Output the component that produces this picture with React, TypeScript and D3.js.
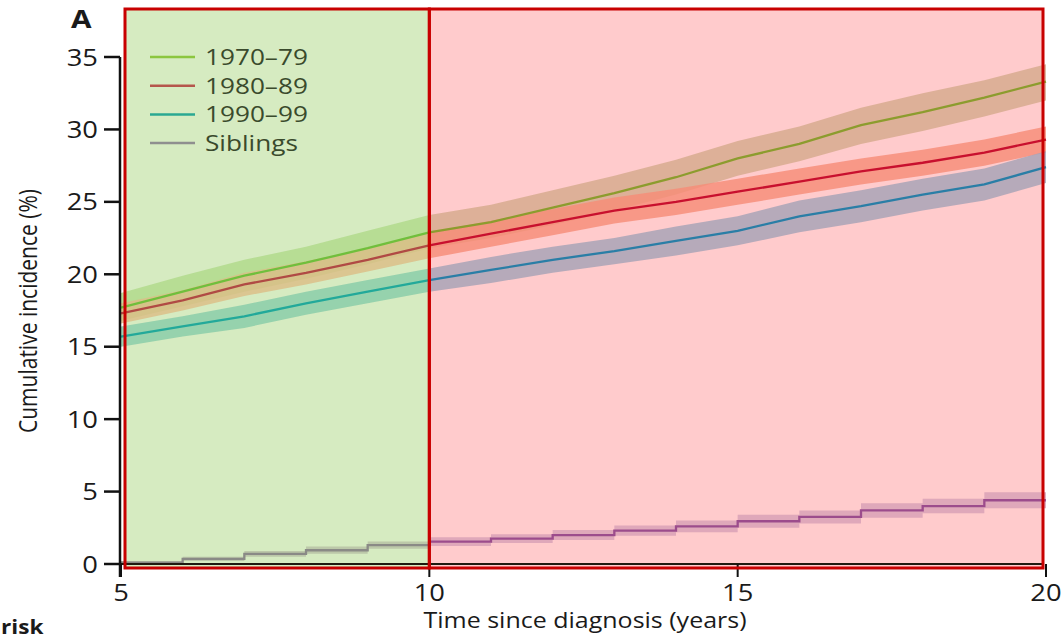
import React from 'react';
import * as d3 from 'd3';

// Follow-up years (time since diagnosis)
const years = [5, 6, 7, 8, 9, 10, 11, 12, 13, 14, 15, 16, 17, 18, 19, 20];

// Cumulative incidence (%) with confidence limits, by treatment era
const era1970Mid = [17.7, 18.8, 19.9, 20.8, 21.8, 22.9, 23.6, 24.6, 25.6, 26.7, 28.0, 29.0, 30.3, 31.2, 32.2, 33.3];
const era1970Lo = [16.8, 17.8, 18.8, 19.7, 20.7, 21.8, 22.5, 23.4, 24.4, 25.5, 26.8, 27.8, 29.0, 29.9, 30.9, 32.0];
const era1970Hi = [18.7, 19.9, 21.0, 21.9, 23.0, 24.1, 24.8, 25.8, 26.8, 27.9, 29.2, 30.2, 31.5, 32.5, 33.4, 34.5];

const era1980Mid = [17.3, 18.2, 19.3, 20.1, 21.0, 22.0, 22.8, 23.6, 24.4, 25.0, 25.7, 26.4, 27.1, 27.7, 28.4, 29.3];
const era1980Lo = [16.6, 17.5, 18.5, 19.3, 20.2, 21.1, 21.9, 22.7, 23.5, 24.1, 24.8, 25.5, 26.2, 26.8, 27.5, 28.4];
const era1980Hi = [18.0, 18.9, 20.1, 20.9, 21.8, 22.9, 23.7, 24.5, 25.3, 25.9, 26.6, 27.3, 28.0, 28.6, 29.3, 30.2];

const era1990Mid = [15.7, 16.4, 17.1, 18.0, 18.8, 19.6, 20.3, 21.0, 21.6, 22.3, 23.0, 24.0, 24.7, 25.5, 26.2, 27.4];
const era1990Lo = [15.0, 15.7, 16.3, 17.2, 18.0, 18.8, 19.4, 20.1, 20.7, 21.3, 22.0, 22.9, 23.6, 24.4, 25.1, 26.3];
const era1990Hi = [16.4, 17.1, 17.9, 18.8, 19.6, 20.4, 21.2, 21.9, 22.5, 23.3, 24.0, 25.1, 25.8, 26.6, 27.3, 28.5];

const siblingsMid = [0.1, 0.35, 0.7, 0.95, 1.3, 1.55, 1.75, 2.0, 2.3, 2.6, 2.95, 3.25, 3.7, 4.0, 4.4, 4.4];
const siblingsLo = [0.0, 0.2, 0.5, 0.7, 1.05, 1.25, 1.45, 1.65, 1.95, 2.2, 2.5, 2.8, 3.2, 3.5, 3.85, 3.85];
const siblingsHi = [0.2, 0.5, 0.9, 1.2, 1.55, 1.85, 2.05, 2.35, 2.65, 3.0, 3.4, 3.7, 4.2, 4.5, 4.95, 4.95];

const legendLabels = ['1970–79', '1980–89', '1990–99', 'Siblings'];
const xTicks = [5, 10, 15, 20];
const yTicks = [0, 5, 10, 15, 20, 25, 30, 35];
const splitYear = 10;

const FONT = "'Open Sans', 'Noto Sans', sans-serif";
const SX = 1.19;

type SeriesDef = {
  mid: number[];
  lo: number[];
  hi: number[];
  step: boolean;
  early: { band: string; line: string };
  late: { band: string; line: string };
  legend: string;
};

const series: SeriesDef[] = [
  {
    mid: era1970Mid, lo: era1970Lo, hi: era1970Hi, step: false,
    early: { band: '#b0d98a', line: '#70bf3c' },
    late: { band: '#d5aa8c', line: '#8c9c2e' },
    legend: '#8cc63f',
  },
  {
    mid: era1980Mid, lo: era1980Lo, hi: era1980Hi, step: false,
    early: { band: '#dcbd86', line: '#b04a44' },
    late: { band: '#f68c78', line: '#c8102e' },
    legend: '#b5564c',
  },
  {
    mid: era1990Mid, lo: era1990Lo, hi: era1990Hi, step: false,
    early: { band: '#88cca8', line: '#22a99a' },
    late: { band: '#a6a2b6', line: '#2a7ea6' },
    legend: '#2aa892',
  },
  {
    mid: siblingsMid, lo: siblingsLo, hi: siblingsHi, step: true,
    early: { band: '#b6c0a4', line: '#8a8a86' },
    late: { band: '#d8a0b6', line: '#9c4c8c' },
    legend: '#8f8f8f',
  },
];

function SText(props: {
  x: number; y: number; anchor?: string; size: number; weight?: number | string;
  fill?: string; children: React.ReactNode;
}) {
  const { x, y, anchor = 'start', size, weight = 400, fill = '#1a1a1a', children } = props;
  return (
    <g transform={`translate(${x},${y}) scale(${SX},1)`}>
      <text textAnchor={anchor as any} fontSize={size} fontWeight={weight as any} fill={fill} fontFamily={FONT}>
        {children}
      </text>
    </g>
  );
}

export default function App() {
  const width = 1063;
  const height = 638;
  const x = d3.scaleLinear().domain([5, 20]).range([121, 1046]);
  const y = d3.scaleLinear().domain([0, 35]).range([564, 57]);

  const xSplit = x(splitYear);
  const regionTop = 9;
  const regionBottom = 568;
  const regionLeft = x(5) + 4;
  const regionRight = x(20) - 3;

  const makeArea = (s: SeriesDef) =>
    d3.area<number>()
      .x((_, i) => x(years[i]))
      .y0((_, i) => y(s.lo[i]))
      .y1((_, i) => y(s.hi[i]))
      .curve(s.step ? d3.curveStepAfter : d3.curveLinear)(years) || '';

  const makeLine = (s: SeriesDef) =>
    d3.line<number>()
      .x((_, i) => x(years[i]))
      .y((_, i) => y(s.mid[i]))
      .curve(s.step ? d3.curveStepAfter : d3.curveLinear)(years) || '';

  const periods: { id: string; key: 'early' | 'late' }[] = [
    { id: 'clip-early', key: 'early' },
    { id: 'clip-late', key: 'late' },
  ];

  return (
    <svg width={width} height={height} style={{ position: 'absolute', left: 0, top: 0, background: '#fff' }}>
      <defs>
        <clipPath id="clip-early">
          <rect x={0} y={0} width={xSplit} height={height} />
        </clipPath>
        <clipPath id="clip-late">
          <rect x={xSplit} y={0} width={width - xSplit} height={height} />
        </clipPath>
      </defs>

      {/* shaded follow-up periods */}
      <rect x={regionLeft} y={regionTop} width={xSplit - regionLeft} height={regionBottom - regionTop} fill="#d6ebc1" />
      <rect x={xSplit} y={regionTop} width={regionRight - xSplit} height={regionBottom - regionTop} fill="#ffcbcc" />

      {/* confidence bands and curves, coloured per period */}
      {periods.map((p) => (
        <g key={p.id} clipPath={`url(#${p.id})`}>
          {series.map((s, i) => (
            <path key={`b${i}`} d={makeArea(s)} fill={s[p.key].band} fillOpacity={0.82} />
          ))}
          {series.map((s, i) => (
            <path key={`l${i}`} d={makeLine(s)} fill="none" stroke={s[p.key].line} strokeWidth={2.3} />
          ))}
        </g>
      ))}

      {/* x axis */}
      <line x1={x(5) - 17} x2={x(20) - 3} y1={y(0)} y2={y(0)} stroke="#1e1a10" strokeWidth={2} />
      {xTicks.map((t) => (
        <line key={`xt${t}`} x1={x(t)} x2={x(t)} y1={y(0)} y2={y(0) + 13} stroke="#111" strokeWidth={2} />
      ))}

      {/* period borders */}
      <rect x={regionLeft} y={regionTop} width={xSplit - regionLeft} height={regionBottom - regionTop} fill="none" stroke="#c80000" strokeWidth={3} />
      <rect x={xSplit} y={regionTop} width={regionRight - xSplit} height={regionBottom - regionTop} fill="none" stroke="#c80000" strokeWidth={3} />

      {/* y axis */}
      <line x1={x(5) - 1} x2={x(5) - 1} y1={y(35)} y2={y(0) + 13} stroke="#111" strokeWidth={2.5} />
      {yTicks.map((t) => (
        <line key={`yt${t}`} x1={x(5) - 17} x2={x(5) - 1} y1={y(t)} y2={y(t)} stroke="#111" strokeWidth={2.5} />
      ))}
      {yTicks.map((t) => (
        <SText key={`yl${t}`} x={98} y={y(t) + 8.5} anchor="end" size={23}>{t}</SText>
      ))}
      {xTicks.map((t) => (
        <SText key={`xl${t}`} x={x(t)} y={601} anchor="middle" size={23}>{t}</SText>
      ))}

      {/* axis titles */}
      <SText x={585} y={628} anchor="middle" size={21}>Time since diagnosis (years)</SText>
      <g transform={`translate(37,311) rotate(-90) scale(1,${SX})`}>
        <text textAnchor="middle" fontSize={21} fill="#1a1a1a" fontFamily={FONT}>Cumulative incidence (%)</text>
      </g>

      {/* panel label and table heading */}
      <SText x={71} y={28} size={25} weight={700}>A</SText>
      <SText x={1} y={634} size={19} weight={700}>risk</SText>

      {/* legend */}
      {legendLabels.map((lab, i) => {
        const ly = 57 + i * 28.7;
        return (
          <g key={lab}>
            <line x1={150} x2={195} y1={ly} y2={ly} stroke={series[i].legend} strokeWidth={2.5} />
            <SText x={205} y={ly + 8} size={22} fill="#3a4a2c">{lab}</SText>
          </g>
        );
      })}
    </svg>
  );
}
